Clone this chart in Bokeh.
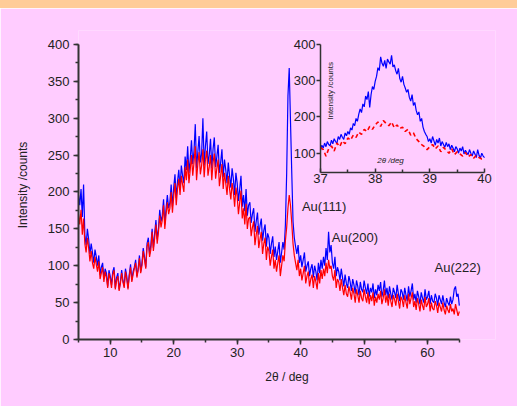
import numpy as np
from bokeh.plotting import figure
from bokeh.models import Range1d, LinearAxis, SingleIntervalTicker, FixedTicker, Label, Div
from bokeh.layouts import column
from bokeh.embed import file_html
from bokeh.resources import INLINE

# ---------------- data ----------------
# main pattern: 2theta from 5 to 65 deg, sampled every 0.2 deg
two_theta_start = 5.0
two_theta_step = 0.2

intensity_blue = [
    196, 182, 204, 166, 210,   # 5
    142, 128, 150, 136, 116,   # 6
    130, 118, 104, 122, 112,   # 7
    100, 114, 88, 98, 104,     # 8
    82, 96, 90, 72, 94,        # 9
    86, 74, 92, 98, 70,        # 10
    84, 90, 68, 78, 94,        # 11
    80, 72, 96, 86, 70,        # 12
    88, 102, 80, 92, 98,       # 13
    108, 86, 96, 114, 92,      # 14
    104, 124, 112, 98, 130,    # 15
    138, 116, 128, 150, 124,   # 16
    144, 162, 136, 150, 176,   # 17
    160, 168, 190, 156, 178,   # 18
    196, 178, 186, 210, 180,   # 19
    206, 224, 192, 214, 230,   # 20
    204, 236, 222, 212, 248,   # 21
    230, 262, 226, 244, 270,   # 22
    238, 256, 292, 232, 254,   # 23
    276, 240, 252, 300, 236,   # 24
    262, 282, 238, 250, 272,   # 25
    232, 258, 274, 234, 248,   # 26
    264, 226, 240, 258, 220,   # 27
    244, 230, 212, 240, 222,   # 28
    206, 232, 218, 196, 226,   # 29
    212, 188, 204, 222, 180,   # 30
    196, 174, 204, 168, 182,   # 31
    186, 158, 170, 178, 146,   # 32
    160, 172, 142, 154, 164,   # 33
    134, 148, 156, 126, 144,   # 34
    138, 116, 130, 140, 112,   # 35
    126, 108, 120, 132, 104,   # 36
    118, 132, 122, 156, 226,   # 37
    330, 368, 296, 226, 160,   # 38
    138, 126, 116, 128, 104,   # 39
    114, 98, 108, 118, 92,     # 40
    100, 106, 86, 96, 102,     # 41
    84, 100, 92, 80, 104,      # 42
    90, 108, 96, 112, 100,     # 43
    124, 108, 146, 118, 128,   # 44
    104, 96, 112, 86, 98,      # 45
    92, 80, 96, 84, 72,        # 46
    88, 76, 70, 86, 78,        # 47
    66, 82, 74, 62, 80,        # 48
    72, 60, 78, 68, 64,        # 49
    80, 70, 62, 76, 58,        # 50
    70, 64, 76, 56, 68,        # 51
    60, 74, 66, 78, 58,        # 52
    66, 80, 60, 70, 56,        # 53
    72, 62, 54, 70, 64,        # 54
    56, 74, 62, 52, 68,        # 55
    64, 54, 70, 60, 52,        # 56
    72, 58, 66, 76, 54,        # 57
    62, 50, 66, 58, 48,        # 58
    64, 56, 50, 68, 54,        # 59
    58, 66, 48, 60, 52,        # 60
    50, 62, 56, 46, 60,        # 61
    54, 48, 60, 50, 44,        # 62
    56, 50, 46, 58, 48,        # 63
    54, 68, 72, 58, 62,        # 64
    46,                        # 65
]

intensity_red = [
    170, 156, 176, 142, 164,   # 5
    130, 118, 138, 124, 106,   # 6
    120, 104, 96, 112, 102,    # 7
    92, 106, 82, 90, 98,       # 8
    78, 92, 84, 70, 90,        # 9
    82, 70, 88, 94, 68,        # 10
    80, 86, 66, 76, 90,        # 11
    78, 70, 92, 82, 68,        # 12
    86, 98, 78, 88, 96,        # 13
    104, 84, 94, 110, 90,      # 14
    100, 120, 108, 96, 126,    # 15
    132, 112, 122, 146, 120,   # 16
    138, 156, 130, 146, 168,   # 17
    152, 162, 182, 150, 170,   # 18
    186, 170, 178, 200, 172,   # 19
    194, 212, 182, 204, 218,   # 20
    196, 222, 210, 200, 234,   # 21
    216, 244, 212, 230, 250,   # 22
    222, 240, 262, 216, 238,   # 23
    254, 224, 236, 258, 220,   # 24
    244, 256, 222, 234, 250,   # 25
    216, 240, 252, 218, 232,   # 26
    244, 208, 222, 238, 204,   # 27
    226, 212, 196, 222, 204,   # 28
    190, 212, 200, 180, 206,   # 29
    194, 170, 186, 202, 164,   # 30
    178, 156, 184, 150, 164,   # 31
    166, 140, 152, 160, 128,   # 32
    142, 154, 124, 136, 146,   # 33
    116, 130, 138, 108, 126,   # 34
    120, 100, 112, 122, 96,    # 35
    108, 92, 104, 114, 86,     # 36
    100, 114, 106, 134, 152,   # 37
    178, 196, 182, 158, 130,   # 38
    114, 104, 94, 108, 86,     # 39
    96, 80, 90, 100, 76,       # 40
    86, 92, 72, 82, 88,        # 41
    70, 86, 78, 68, 90,        # 42
    76, 94, 82, 96, 86,        # 43
    104, 90, 108, 96, 100,     # 44
    86, 80, 94, 70, 82,        # 45
    78, 66, 82, 70, 60,        # 46
    74, 62, 58, 72, 64,        # 47
    54, 70, 62, 50, 68,        # 48
    60, 50, 66, 56, 52,        # 49
    68, 58, 50, 64, 48,        # 50
    60, 52, 64, 46, 58,        # 51
    50, 62, 54, 66, 48,        # 52
    56, 68, 50, 60, 46,        # 53
    62, 52, 44, 60, 54,        # 54
    46, 62, 52, 42, 58,        # 55
    54, 44, 60, 50, 42,        # 56
    62, 48, 56, 64, 44,        # 57
    52, 40, 56, 48, 38,        # 58
    54, 46, 40, 58, 44,        # 59
    48, 56, 38, 50, 42,        # 60
    40, 52, 46, 36, 50,        # 61
    44, 38, 50, 40, 34,        # 62
    46, 40, 36, 48, 38,        # 63
    42, 34, 48, 40, 32,        # 64
    38,                        # 65
]

# Au(111) detail, 37-40 deg
inset_start = 37.0
inset_blue_step = 0.025
inset_blue = [
    108, 122, 114, 128, 118, 132, 124, 120, 136, 126, 140, 132, 128, 146, 138, 152, 144, 138, 156, 148,
    160, 152, 170, 164, 182, 176, 196, 188, 208, 222, 212, 236, 228, 258, 248, 270, 226, 262, 284, 276,
    298, 312, 336, 328, 366, 348, 340, 356, 334, 360, 352, 346, 370, 338, 344, 328, 318, 334, 306, 296,
    312, 290, 280, 268, 276, 254, 244, 262, 232, 240, 218, 206, 214, 188, 196, 172, 160, 152, 146, 132,
    140, 128, 146, 134, 122, 138, 128, 142, 120, 132, 124, 116, 130, 118, 126, 110, 122, 114, 104, 118,
    112, 100, 114, 106, 118, 98, 108, 102, 96, 110, 100, 92, 106, 98, 88, 110, 94, 86, 100, 92,
    88,
]
inset_red_step = 0.05
inset_red = [
    116, 110, 92, 112, 120, 106, 128, 118, 134, 126,
    142, 136, 150, 144, 158, 152, 166, 160, 174, 166,
    178, 186, 174, 190, 182, 176, 186, 170, 178, 168,
    172, 160, 166, 150, 156, 140, 132, 124, 118, 110,
    118, 124, 112, 120, 104, 116, 108, 100, 112, 96,
    104, 98, 92, 102, 90, 96, 86, 94, 88, 84,
    86,
]

peak_names = ["Au(111)", "Au(200)", "Au(222)"]
peak_label_x = [40.2, 44.9, 61.1]
peak_label_y = [180, 138, 97]

two_theta = two_theta_start + two_theta_step * np.arange(len(intensity_blue))
inset_blue_x = inset_start + inset_blue_step * np.arange(len(inset_blue))
inset_red_x = inset_start + inset_red_step * np.arange(len(inset_red))

# ---------------- styling ----------------
PINK = "#FFCCFF"
ORANGE = "#FFCC99"
INK = "#222222"
AXIS = "#333333"
FONT = "Liberation Sans"

# thin coloured strip across the top of the page
strip = Div(text="", width=517, height=8, margin=(0, 0, 0, 0),
            styles={"background-color": ORANGE})

p = figure(width=517, height=398, output_backend="svg", toolbar_location=None,
           x_range=Range1d(5, 70.70), y_range=Range1d(0, 418.98),
           x_axis_type=None, y_axis_type=None,
           min_border_left=78, min_border_right=22,
           min_border_top=22, min_border_bottom=67,
           background_fill_color=PINK, border_fill_color=PINK,
           outline_line_color=None)
p.extra_x_ranges = {"ix": Range1d(32.573, 40.201)}
p.extra_y_ranges = {"iy": Range1d(-414.17, 438.64)}


def style_axis(ax, size="13px", width=2):
    ax.axis_line_color = AXIS
    ax.axis_line_width = width
    ax.major_tick_line_color = AXIS
    ax.minor_tick_line_color = AXIS
    ax.major_tick_line_width = 1.5
    ax.minor_tick_line_width = 1.5
    ax.major_label_text_font = FONT
    ax.major_label_text_font_size = size
    ax.major_label_text_color = INK
    ax.axis_label_text_font = FONT
    ax.axis_label_text_font_size = "12px"
    ax.axis_label_text_font_style = "normal"
    ax.axis_label_text_color = INK


# main axes
xax = LinearAxis(ticker=SingleIntervalTicker(interval=10, num_minor_ticks=2),
                 bounds=(5, 65), axis_label="2θ / deg")
style_axis(xax)
xax.major_tick_out = 5
xax.major_tick_in = 0
xax.minor_tick_out = 3
xax.minor_tick_in = 0
xax.major_label_standoff = 3
xax.axis_label_standoff = 10
p.add_layout(xax, "below")

yax = LinearAxis(ticker=SingleIntervalTicker(interval=50, num_minor_ticks=2),
                 bounds=(0, 400), axis_label="Intensity /counts")
style_axis(yax)
yax.major_tick_out = 5
yax.major_tick_in = 0
yax.minor_tick_out = 3
yax.minor_tick_in = 0
yax.major_label_standoff = 4
yax.axis_label_standoff = 15
p.add_layout(yax, "left")

# inset axes
ixax = LinearAxis(x_range_name="ix", y_range_name="iy", fixed_location=48,
                  bounds=(37, 40),
                  ticker=FixedTicker(ticks=[37, 38, 39, 40], minor_ticks=[37.5, 38.5, 39.5]))
style_axis(ixax, size="13px", width=1.5)
ixax.major_tick_out = 0
ixax.major_tick_in = 4
ixax.minor_tick_out = 0
ixax.minor_tick_in = 3
ixax.major_label_standoff = 2
p.add_layout(ixax, "below")

iyax = LinearAxis(x_range_name="ix", y_range_name="iy", fixed_location=37,
                  bounds=(48, 400),
                  ticker=FixedTicker(ticks=[100, 200, 300, 400], minor_ticks=[]))
style_axis(iyax, size="13px", width=1.5)
iyax.major_tick_out = 4
iyax.major_tick_in = 0
iyax.minor_tick_out = 0
iyax.minor_tick_in = 0
iyax.major_label_standoff = 1
p.add_layout(iyax, "left")

# diffraction patterns
p.line(two_theta, intensity_blue, line_color="#0000FF", line_width=1.2)
p.line(two_theta, intensity_red, line_color="#FF0000", line_width=1.2)

p.line(inset_blue_x, inset_blue, line_color="#0000FF", line_width=1.2,
       x_range_name="ix", y_range_name="iy")
p.line(inset_red_x, inset_red, line_color="#FF0000", line_width=1.6,
       line_dash="4 3", x_range_name="ix", y_range_name="iy")

# reflection labels
for name, lx, ly in zip(peak_names, peak_label_x, peak_label_y):
    p.add_layout(Label(x=lx, y=ly, text=name, text_font=FONT,
                       text_font_size="13px", text_color=INK,
                       text_baseline="middle", text_align="left"))

# inset axis titles
p.add_layout(Label(x=37.18, y=272, text="Intensity /counts", angle=np.pi / 2,
                   text_font=FONT, text_font_size="8px", text_color=INK,
                   text_baseline="middle", text_align="center",
                   x_range_name="ix", y_range_name="iy"))
p.add_layout(Label(x=38.28, y=80, text="2θ /deg", text_font=FONT,
                   text_font_size="8px", text_font_style="italic",
                   text_color=INK, text_baseline="middle", text_align="center",
                   x_range_name="ix", y_range_name="iy"))

layout = column(strip, p, spacing=0)
open("out.html", "w").write(file_html(layout, INLINE))
